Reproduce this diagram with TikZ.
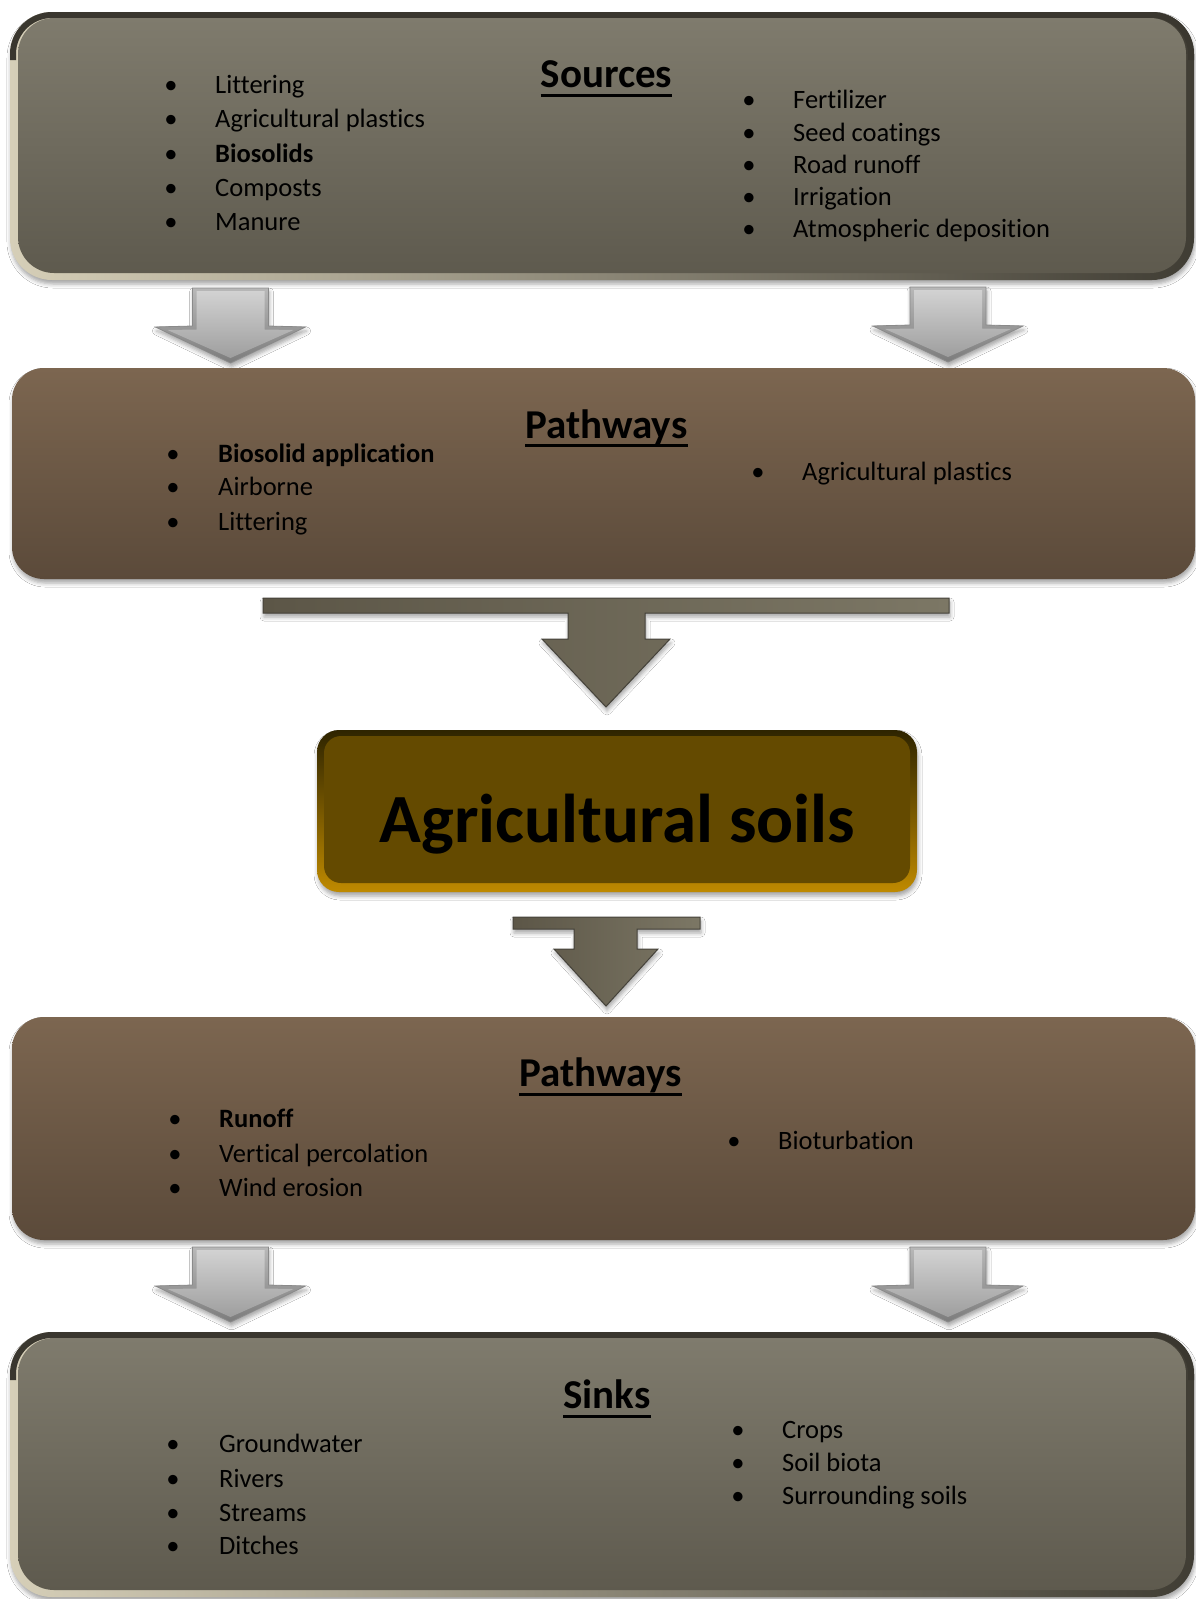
\documentclass[tikz,border=0pt]{standalone}
\usepackage{fontspec}
\setmainfont{Carlito}[Ligatures=NoCommon]
\usetikzlibrary{shadows.blur}
\definecolor{srcTop}{HTML}{7F7B6D}
\definecolor{srcMid}{HTML}{79756A}
\definecolor{srcBot}{HTML}{5E5A4E}
\definecolor{rimL}{HTML}{D6CFB8}
\definecolor{rimR}{HTML}{403D34}
\definecolor{rimTop}{HTML}{3A372F}
\definecolor{pwTop}{HTML}{7C6650}
\definecolor{pwMid}{HTML}{6F5A47}
\definecolor{pwBot}{HTML}{5B4A3A}
\definecolor{soilFill}{HTML}{644A00}
\definecolor{soilTop}{HTML}{2E2400}
\definecolor{soilMid}{HTML}{A57800}
\definecolor{soilBot}{HTML}{BF8A00}
\definecolor{gTop}{HTML}{B8B8B8}
\definecolor{gBot}{HTML}{7C7C7C}
\definecolor{gInTop}{HTML}{D2D2D2}
\definecolor{gInBot}{HTML}{9E9E9E}
\definecolor{gEdge}{HTML}{8A8A8A}
\definecolor{tL}{HTML}{5C5647}
\definecolor{tR}{HTML}{7C7765}
\definecolor{tEdge}{HTML}{45423A}
\newcommand\bitem[5]{%
  \node[bul] (#1b) at (#2,#4) {\textbullet};
  \node[itm] (#1) at (#3,#4) {#5};}
\begin{document}
\begin{tikzpicture}[x=1pt, y=-1pt,
  itm/.style={anchor=base west, inner sep=0pt, font=\fontsize{26.5}{32}\selectfont},
  bul/.style={anchor=base, inner sep=0pt, font=\fontsize{26.5}{32}\selectfont},
  ttl/.style={anchor=base, inner sep=0pt, font=\fontsize{41}{48}\selectfont\bfseries},
  uline/.style={line width=3pt, black},
  shd/.style={blur shadow={shadow xshift=1pt, shadow yshift=-4pt, shadow blur radius=4pt, shadow opacity=35}},
  rimbox/.style={rounded corners=#1, inner sep=0pt, left color=rimL, right color=rimR, shd},
  face/.style={rounded corners=#1, inner sep=0pt, top color=srcTop, middle color=srcMid, bottom color=srcBot},
  pwbox/.style={rounded corners=32pt, inner sep=0pt, top color=pwTop, middle color=pwMid, bottom color=pwBot, shd},
  garrow/.pic={
    \shade[top color=gTop, bottom color=gBot, draw=gEdge, line width=0.8pt, shd]
      (-38,0) -- (38,0) -- (38,38) -- (75,39) -- (0,75) -- (-75,39) -- (-38,38) -- cycle;
    \shade[top color=gInTop, bottom color=gInBot]
      (-34,3) -- (34,3) -- (34,41.5) -- (63,42) -- (0,70) -- (-63,42) -- (-34,41.5) -- cycle;}
]
\useasboundingbox (0,0) rectangle (1196,1599);
\fill[white] (0,0) rectangle (1196,1599);

% ---------- Sources ----------
\node[rimbox=42pt, minimum width=1184pt, minimum height=268pt] (srcrim) at (602,146) {};
\begin{scope}
  \clip[rounded corners=42pt] (10,12) rectangle (1194,280);
  \draw[rimTop, line width=12pt, rounded corners=42pt] (10,60) -- (10,12) -- (1194,12) -- (1194,60);
\end{scope}
\node[face=36pt, minimum width=1168pt, minimum height=255pt] (src) at (602,145.5) {};
\node[ttl] (t1) at (606.5,87) {Sources};
\draw[uline] ([yshift=-8pt]t1.base west) -- ([yshift=-8pt]t1.base east);
\bitem{a1}{171}{215}{93}{Littering}
\bitem{a2}{171}{215}{127}{Agricultural plastics}
\bitem{a3}{171}{215}{162}{\textbf{Biosolids}}
\bitem{a4}{171}{215}{196}{Composts}
\bitem{a5}{171}{215}{230}{Manure}
\bitem{b1}{749}{793}{108}{Fertilizer}
\bitem{b2}{749}{793}{141}{Seed coatings}
\bitem{b3}{749}{793}{173}{Road runoff}
\bitem{b4}{749}{793}{205}{Irrigation}
\begin{scope}
  \clip (700,200) rectangle (1150,242.5);
  \bitem{b5}{749}{793}{237}{Atmospheric deposition}
\end{scope}

% arrows
\pic at (230.5,288) {garrow};
\pic at (948,287) {garrow};

% ---------- Pathways 1 ----------
\node[pwbox, minimum width=1183pt, minimum height=211pt] (pw1) at (603.5,473.5) {};
\node[ttl] (t2) at (606.5,438) {Pathways};
\draw[uline] ([yshift=-7.5pt]t2.base west) -- ([yshift=-7.5pt]t2.base east);
\bitem{c1}{173}{218}{462}{\textbf{Biosolid application}}
\bitem{c2}{173}{218}{495}{Airborne}
\bitem{c3}{173}{218}{530}{Littering}
\bitem{d1}{758}{802}{480}{Agricultural plastics}

% T arrow 1
\shade[left color=tL, right color=tR, draw=tEdge, line width=1pt, shd]
  (263,598) -- (949,598) -- (949,613) -- (645,613) -- (645,639) -- (670,639) -- (606,707)
  -- (542,639) -- (568,639) -- (568,613) -- (263,613) -- cycle;

% ---------- Agricultural soils ----------
\node[rounded corners=22pt, inner sep=0pt, top color=soilTop, middle color=soilMid, bottom color=soilBot,
      minimum width=600pt, minimum height=162pt, shd] (soilrim) at (617,811) {};
\node[rounded corners=17pt, inner sep=0pt, fill=soilFill, minimum width=586pt, minimum height=147pt] (soil) at (617,809.5) {};
\node[anchor=base, inner sep=0pt, font=\fontsize{69}{80}\selectfont\bfseries, text=black] (soiltx) at (617.5,842) {Agricultural soils};

% T arrow 2
\shade[left color=tL, right color=tR, draw=tEdge, line width=1pt, shd]
  (513,917) -- (700,917) -- (700,929) -- (637,929) -- (637,949) -- (658,949) -- (606,1006)
  -- (554,949) -- (574,949) -- (574,929) -- (513,929) -- cycle;

% ---------- Pathways 2 ----------
\node[pwbox, minimum width=1183pt, minimum height=223pt] (pw2) at (603.5,1128.5) {};
\node[ttl] (t3) at (600.5,1086.5) {Pathways};
\draw[uline] ([yshift=-7.5pt]t3.base west) -- ([yshift=-7.5pt]t3.base east);
\bitem{e1}{175}{219}{1127}{\textbf{Runoff}}
\bitem{e2}{175}{219}{1162.5}{Vertical percolation}
\bitem{e3}{175}{219}{1196}{Wind erosion}
\bitem{f1}{734}{778}{1149.5}{Bioturbation}

% arrows
\pic at (230.5,1247) {garrow};
\pic at (948,1247) {garrow};

% ---------- Sinks ----------
\node[rimbox=42pt, minimum width=1184pt, minimum height=265pt] (snkrim) at (602,1464.5) {};
\begin{scope}
  \clip[rounded corners=42pt] (10,1332) rectangle (1194,1597);
  \draw[rimTop, line width=12pt, rounded corners=42pt] (10,1380) -- (10,1332) -- (1194,1332) -- (1194,1380);
\end{scope}
\node[face=36pt, minimum width=1168pt, minimum height=252pt] (snk) at (602,1464) {};
\node[ttl] (t4) at (606.8,1408.5) {Sinks};
\draw[uline] ([yshift=-8pt]t4.base west) -- ([yshift=-8pt]t4.base east);
\bitem{g1}{173}{219}{1452}{Groundwater}
\bitem{g2}{173}{219}{1487}{Rivers}
\bitem{g3}{173}{219}{1521}{Streams}
\bitem{g4}{173}{219}{1554}{Ditches}
\bitem{h1}{738}{782}{1438}{Crops}
\bitem{h2}{738}{782}{1471}{Soil biota}
\bitem{h3}{738}{782}{1504}{Surrounding soils}
\end{tikzpicture}
\end{document}
